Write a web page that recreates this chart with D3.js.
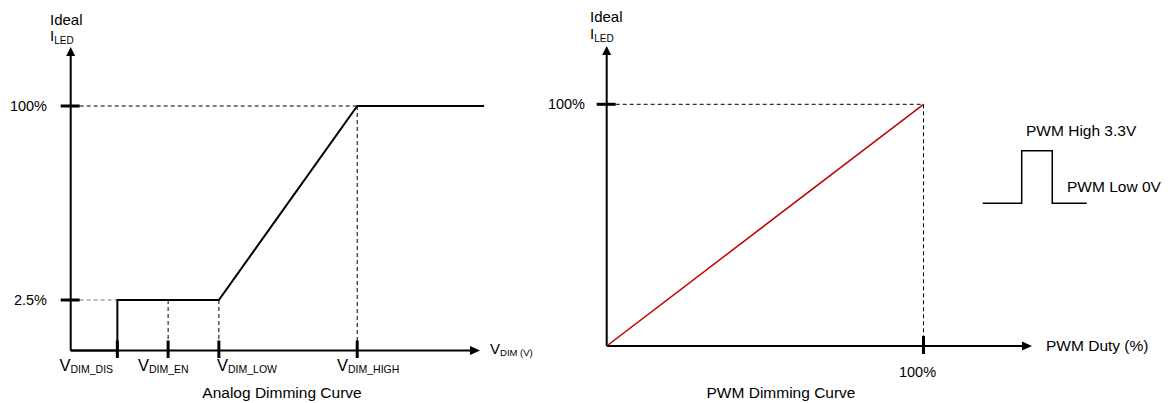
<!DOCTYPE html>
<html>
<head>
<meta charset="utf-8">
<script src="https://cdn.jsdelivr.net/npm/d3@7"></script>
<style>
  html, body { margin: 0; padding: 0; background: #fff; }
  svg { display: block; }
  text { font-family: Arial, "Liberation Sans", sans-serif; fill: #000; }
</style>
</head>
<body>
<svg id="chart" width="1168" height="403"></svg>
<script>
// ---- Analog dimming: threshold positions (relative % of the V_DIM axis span)
const analogTickNames = ["DIM_DIS", "DIM_EN", "DIM_LOW", "DIM_HIGH"];
const analogTickPos   = [11.4, 23.8, 36.2, 70];
// ideal LED current curve (x in % of axis span, y in % of full current)
const analogCurveX = [0, 11.4, 11.4, 36.2, 70, 101];
const analogCurveY = [0, 0, 2.5, 2.5, 100, 100];
const analogYTicks = [2.5, 100];
const analogYLabels = ["2.5%", "100%"];

// ---- PWM dimming: duty vs ideal current
const pwmDuty = [0, 100];
const pwmCurrent = [0, 100];
const pwmYTicks = [100];
const pwmYLabels = ["100%"];
const pwmXTicks = [100];
const pwmXLabels = ["100%"];

// ---- PWM waveform inset (time units, volts)
const pulseT = [0, 3, 3, 5.35, 5.35, 8];
const pulseV = [0, 0, 3.3, 3.3, 0, 0];

const svg = d3.select("#chart");

function arrowUp(g, x, yTip) {
  g.append("path").attr("d", `M${x},${yTip} L${x - 4.5},${yTip + 9} L${x + 4.5},${yTip + 9} Z`).attr("fill", "#000");
}
function arrowRight(g, xTip, y) {
  g.append("path").attr("d", `M${xTip},${y} L${xTip - 10},${y - 4.5} L${xTip - 10},${y + 4.5} Z`).attr("fill", "#000");
}
function dashed(g, x1, y1, x2, y2, color) {
  g.append("line").attr("x1", x1).attr("y1", y1).attr("x2", x2).attr("y2", y2)
    .attr("stroke", color || "#000").attr("stroke-width", 1).attr("stroke-dasharray", "4,3");
}
function subLabel(g, x, y, main, sub, mainSize, subSize, dy) {
  const t = g.append("text").attr("x", x).attr("y", y).style("font-size", mainSize + "px");
  t.append("tspan").text(main);
  t.append("tspan").attr("dy", dy).style("font-size", subSize + "px").text(sub);
  return t;
}

// ================= Analog dimming curve =================
const A = svg.append("g");
const ax = d3.scaleLinear().domain([0, 100]).range([70.7, 480]);
const ay = d3.scaleLinear().domain([0, 2.5, 100]).range([350.5, 300, 106]);

// guide lines
dashed(A, ax(0) + 9, ay(100), ax(70), ay(100));
dashed(A, ax(70), ay(100), ax(70), ay(0));
dashed(A, ax(0) + 9, ay(2.5), ax(11.4), ay(2.5), "#777");
dashed(A, ax(23.8), ay(2.5), ax(23.8), ay(0));
dashed(A, ax(36.2), ay(2.5), ax(36.2), ay(0));

// axes
A.append("line").attr("x1", ax(0)).attr("y1", ay(0)).attr("x2", ax(0)).attr("y2", 54).attr("stroke", "#000").attr("stroke-width", 2);
arrowUp(A, ax(0), 47);
A.append("line").attr("x1", ax(0)).attr("y1", ay(0)).attr("x2", 472).attr("y2", ay(0)).attr("stroke", "#000").attr("stroke-width", 2);
arrowRight(A, ax(100), ay(0));

// curve
A.append("path")
  .datum(d3.zip(analogCurveX, analogCurveY))
  .attr("d", d3.line().x(d => ax(d[0])).y(d => ay(d[1])))
  .attr("fill", "none").attr("stroke", "#000").attr("stroke-width", 2);

// y ticks + labels
analogYTicks.forEach((v, i) => {
  A.append("line").attr("x1", ax(0) - 10).attr("x2", ax(0) + 9).attr("y1", ay(v)).attr("y2", ay(v))
    .attr("stroke", "#000").attr("stroke-width", 3);
  A.append("text").attr("x", 47).attr("y", ay(v) + 5).attr("text-anchor", "end")
    .style("font-size", "14.5px").text(analogYLabels[i]);
});

// x ticks + labels
const analogLabelX = [59.5, 138, 217, 337];
analogTickPos.forEach((v, i) => {
  A.append("line").attr("x1", ax(v)).attr("x2", ax(v)).attr("y1", ay(0) - 10).attr("y2", ay(0) + 7.5)
    .attr("stroke", "#000").attr("stroke-width", 3);
  subLabel(A, analogLabelX[i], 371, "V", analogTickNames[i], 16.5, 10.5, 1.5);
});

// axis titles
A.append("text").attr("x", 50).attr("y", 25).style("font-size", "15px").text("Ideal");
subLabel(A, 50, 41, "I", "LED", 15, 10, 3);
subLabel(A, 490, 354, "V", "DIM (V)", 15, 9.5, 2);
A.append("text").attr("x", 282).attr("y", 398).attr("text-anchor", "middle").style("font-size", "15.5px").text("Analog Dimming Curve");

// ================= PWM dimming curve =================
const P = svg.append("g");
const px = d3.scaleLinear().domain([0, 100]).range([606.7, 923.5]);
const py = d3.scaleLinear().domain([0, 100]).range([346, 104.3]);

dashed(P, px(0) + 9, py(100), px(100), py(100));
dashed(P, px(100), py(100), px(100), py(0));

P.append("line").attr("x1", px(0)).attr("y1", py(0)).attr("x2", px(0)).attr("y2", 53).attr("stroke", "#000").attr("stroke-width", 2);
arrowUp(P, px(0), 46);
P.append("line").attr("x1", px(0)).attr("y1", py(0)).attr("x2", 1024).attr("y2", py(0)).attr("stroke", "#000").attr("stroke-width", 2);
arrowRight(P, 1032, py(0));

P.append("path")
  .datum(d3.zip(pwmDuty, pwmCurrent))
  .attr("d", d3.line().x(d => px(d[0])).y(d => py(d[1])))
  .attr("fill", "none").attr("stroke", "#c00000").attr("stroke-width", 1.5);

pwmYTicks.forEach((v, i) => {
  P.append("line").attr("x1", px(0) - 10).attr("x2", px(0) + 9).attr("y1", py(v)).attr("y2", py(v))
    .attr("stroke", "#000").attr("stroke-width", 3);
  P.append("text").attr("x", 585).attr("y", py(v) + 5).attr("text-anchor", "end")
    .style("font-size", "14.5px").text(pwmYLabels[i]);
});
pwmXTicks.forEach((v, i) => {
  P.append("line").attr("x1", px(v)).attr("x2", px(v)).attr("y1", py(0) - 10).attr("y2", py(0) + 8)
    .attr("stroke", "#000").attr("stroke-width", 3);
  P.append("text").attr("x", px(v) - 6).attr("y", 377).attr("text-anchor", "middle")
    .style("font-size", "14.5px").text(pwmXLabels[i]);
});

P.append("text").attr("x", 590).attr("y", 22).style("font-size", "15px").text("Ideal");
subLabel(P, 590, 39, "I", "LED", 15, 10, 3);
P.append("text").attr("x", 1046).attr("y", 351).style("font-size", "15.5px").text("PWM Duty (%)");
P.append("text").attr("x", 781).attr("y", 398).attr("text-anchor", "middle").style("font-size", "15.5px").text("PWM Dimming Curve");

// ---- PWM waveform inset
const wx = d3.scaleLinear().domain([0, 8]).range([982.7, 1086.7]);
const wy = d3.scaleLinear().domain([0, 3.3]).range([203.3, 150.7]);
P.append("path")
  .datum(d3.zip(pulseT, pulseV))
  .attr("d", d3.line().x(d => wx(d[0])).y(d => wy(d[1])))
  .attr("fill", "none").attr("stroke", "#000").attr("stroke-width", 1.5);
P.append("text").attr("x", 1026).attr("y", 136).style("font-size", "15.5px").text("PWM High 3.3V");
P.append("text").attr("x", 1067).attr("y", 192).style("font-size", "15.5px").text("PWM Low 0V");
</script>
</body>
</html>
